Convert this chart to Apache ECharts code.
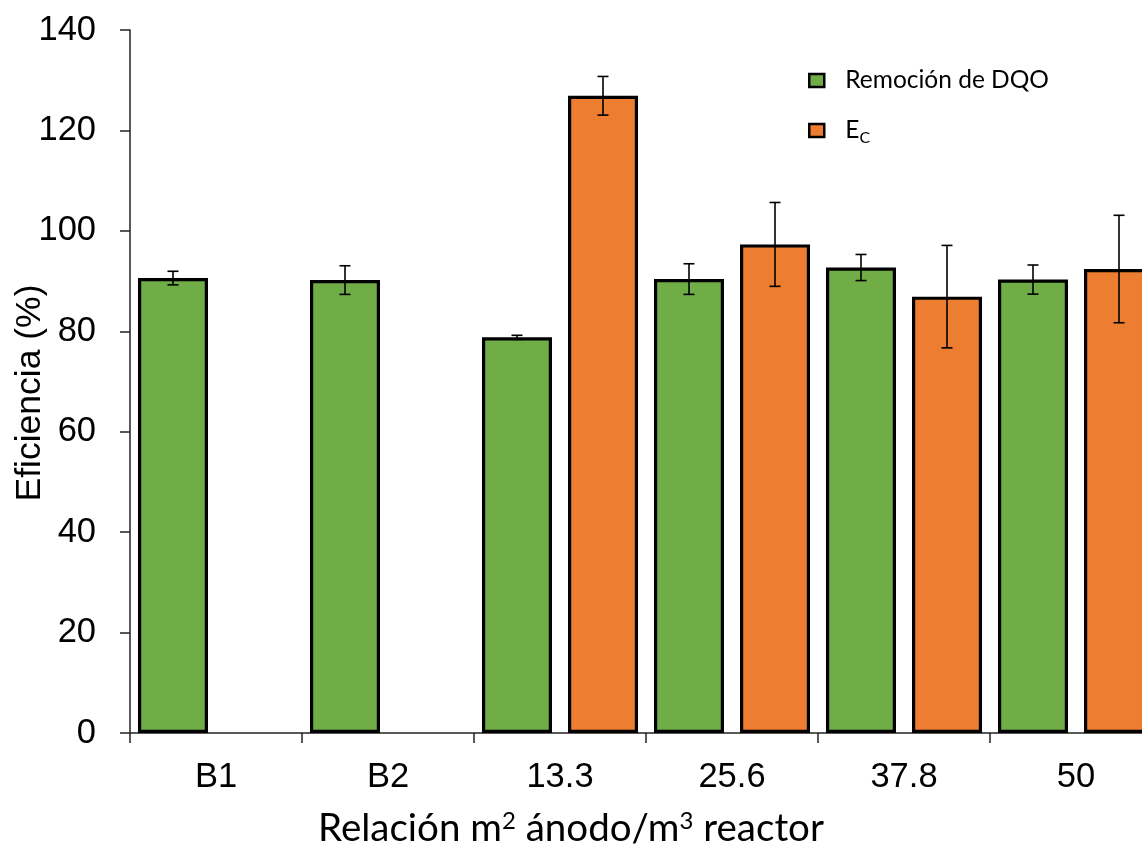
<!DOCTYPE html>
<html>
<head>
<meta charset="utf-8">
<script src="https://cdn.jsdelivr.net/npm/echarts@6/dist/echarts.min.js"></script>
<style>
  html, body { margin: 0; padding: 0; background: #fff; }
  #chart { width: 1142px; height: 850px; }
</style>
</head>
<body>
<div id="chart"></div>
<script>
// Eficiencia de remoción de DQO y eficiencia coulómbica por relación área de ánodo / volumen
const categories = ['B1', 'B2', '13.3', '25.6', '37.8', '50'];
const remocionDQO = [90.6, 90.2, 78.8, 90.4, 92.7, 90.3];
const remocionDQOErr = [1.35, 2.85, 0.4, 3.05, 2.6, 2.9];
const eficienciaC = [null, null, 126.9, 97.3, 86.9, 92.4];
const eficienciaCErr = [null, null, 3.85, 8.35, 10.2, 10.7];
const yTicks = { min: 0, max: 140, interval: 20 };

const GREEN = '#70AD47';
const ORANGE = '#ED7D31';
const BAR_W = 70;
const BAR_GAP = 16;

const chart = echarts.init(document.getElementById('chart'), null, { renderer: 'canvas' });

// Error bars drawn as whiskers with caps, shifted onto their own bar of the pair
function errorSeries(name, values, errs, side) {
  const data = values.map((v, i) => (v == null ? null : [i, v - errs[i], v + errs[i]])).filter(d => d);
  return {
    type: 'custom',
    name: name + '-err',
    z: 10,
    silent: true,
    data: data,
    renderItem: function (params, api) {
      const idx = api.value(0);
      const lo = api.coord([idx, api.value(1)]);
      const hi = api.coord([idx, api.value(2)]);
      const dx = side * (BAR_W + BAR_GAP) / 2;
      const x = lo[0] + dx;
      const cap = 5.5;
      const style = { stroke: '#000', lineWidth: 1.6 };
      return {
        type: 'group',
        children: [
          { type: 'line', shape: { x1: x, y1: lo[1], x2: x, y2: hi[1] }, style: style },
          { type: 'line', shape: { x1: x - cap, y1: lo[1], x2: x + cap, y2: lo[1] }, style: style },
          { type: 'line', shape: { x1: x - cap, y1: hi[1], x2: x + cap, y2: hi[1] }, style: style }
        ]
      };
    }
  };
}

const option = {
  backgroundColor: '#fff',
  animation: false,
  grid: { left: 130, right: -20, top: 30, bottom: 117, containLabel: false, outerBoundsMode: 'none' },
  legend: {
    orient: 'vertical',
    left: 803,
    top: 63,
    icon: 'rect',
    itemWidth: 15,
    itemHeight: 13,
    itemGap: 25,
    data: ['Remoción de DQO', 'EC'],
    itemStyle: { borderColor: '#000', borderWidth: 2.5 },
    textStyle: {
      fontFamily: 'Lato',
      fontSize: 24.5,
      color: '#000',
      padding: [0, 0, 0, 16],
      rich: {
        m: { fontFamily: 'Lato', fontSize: 24.5, color: '#000' },
        s: { fontFamily: 'Lato', fontSize: 16, color: '#000', padding: [15, 0, 0, 0] }
      }
    },
    formatter: function (name) {
      return name === 'EC' ? '{m|E}{s|C}' : name;
    }
  },
  graphic: [
    {
      type: 'text',
      x: 571,
      y: 829,
      style: {
        text: '{t|Relación m}{sup|2}{t| ánodo/m}{sup|3}{t| reactor}',
        align: 'center',
        verticalAlign: 'middle',
        rich: {
          t: { fontFamily: 'Lato', fontSize: 38.5, fill: '#000' },
          sup: { fontFamily: 'Lato', fontSize: 24, fill: '#000', padding: [0, 0, 16, 0] }
        }
      }
    },
    {
      type: 'text',
      x: 30,
      y: 393,
      rotation: Math.PI / 2,
      style: {
        text: 'Eficiencia (%)',
        align: 'center',
        verticalAlign: 'middle',
        fontFamily: 'Liberation Sans',
        fontSize: 35.5,
        fill: '#000'
      }
    }
  ],
  xAxis: {
    type: 'category',
    data: categories,
    boundaryGap: true,
    axisLine: { lineStyle: { color: '#222', width: 1.5 } },
    axisTick: { show: true, alignWithLabel: false, length: 10, lineStyle: { color: '#222', width: 1.5 } },
    axisLabel: { fontFamily: 'Liberation Sans', fontSize: 34.5, color: '#000', margin: 27 }
  },
  yAxis: {
    type: 'value',
    min: yTicks.min,
    max: yTicks.max,
    interval: yTicks.interval,
    splitLine: { show: false },
    axisLine: { show: true, lineStyle: { color: '#222', width: 1.5 } },
    axisTick: { show: true, length: 10, lineStyle: { color: '#222', width: 1.5 } },
    axisLabel: { fontFamily: 'Liberation Sans', fontSize: 34.5, color: '#000', margin: 34 }
  },
  series: [
    {
      name: 'Remoción de DQO',
      type: 'bar',
      data: remocionDQO,
      barWidth: BAR_W,
      barGap: (BAR_GAP / BAR_W * 100).toFixed(1) + '%',
      itemStyle: { color: GREEN, borderColor: '#000', borderWidth: 3.2 }
    },
    {
      name: 'EC',
      type: 'bar',
      data: eficienciaC.map(v => (v == null ? '-' : v)),
      barWidth: BAR_W,
      itemStyle: { color: ORANGE, borderColor: '#000', borderWidth: 3.2 }
    },
    errorSeries('Remoción de DQO', remocionDQO, remocionDQOErr, -1),
    errorSeries('EC', eficienciaC, eficienciaCErr, 1)
  ]
};

chart.setOption(option);
</script>
</body>
</html>
